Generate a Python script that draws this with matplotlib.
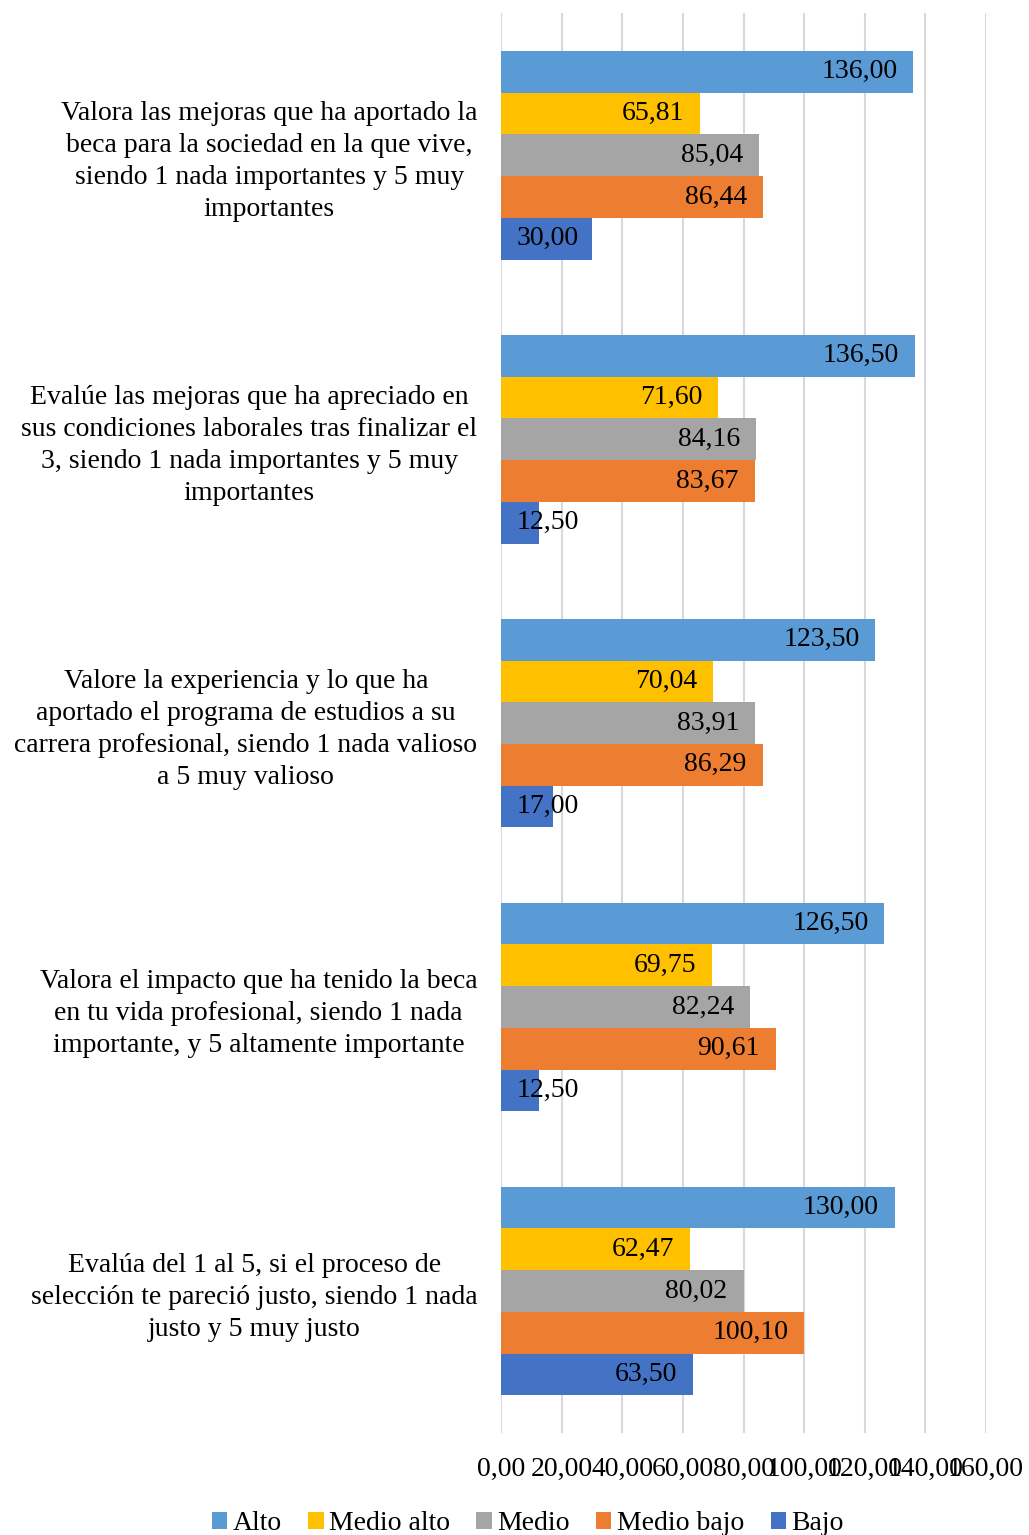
import matplotlib.pyplot as plt
import numpy as np

plt.rcParams['font.family'] = ['Liberation Serif', 'DejaVu Serif']

# categories from bottom to top
categorias = [
    "Evalúa del 1 al 5, si el proceso de\nselección te pareció justo, siendo 1 nada\njusto y 5 muy justo",
    "Valora el impacto que ha tenido la beca\nen tu vida profesional, siendo 1 nada\nimportante, y 5 altamente importante",
    "Valore la experiencia y lo que ha\naportado el programa de estudios a su\ncarrera profesional, siendo 1 nada valioso\na 5 muy valioso",
    "Evalúe las mejoras que ha apreciado en\nsus condiciones laborales tras finalizar el\n3, siendo 1 nada importantes y 5 muy\nimportantes",
    "Valora las mejoras que ha aportado la\nbeca para la sociedad en la que vive,\nsiendo 1 nada importantes y 5 muy\nimportantes",
]

series = ["Alto", "Medio alto", "Medio", "Medio bajo", "Bajo"]
alto = [130.00, 126.50, 123.50, 136.50, 136.00]
medio_alto = [62.47, 69.75, 70.04, 71.60, 65.81]
medio = [80.02, 82.24, 83.91, 84.16, 85.04]
medio_bajo = [100.10, 90.61, 86.29, 83.67, 86.44]
bajo = [63.50, 12.50, 17.00, 12.50, 30.00]
colores = ["#5B9BD5", "#FFC000", "#A5A5A5", "#ED7D31", "#4472C4"]

ticks = [0, 20, 40, 60, 80, 100, 120, 140, 160]

def fmt(v):
    return f"{v:.2f}".replace(".", ",")

fig = plt.figure(figsize=(10.29, 15.35), dpi=100)
ax = fig.add_axes([0.4869, 0.0664, 0.4713, 0.925])

y = np.arange(len(categorias))
h = 0.147
datos = [alto, medio_alto, medio, medio_bajo, bajo]
for k, (nombre, vals, col) in enumerate(zip(series, datos, colores)):
    pos = y + (2 - k) * h
    ax.barh(pos, vals, height=h, color=col, label=nombre, zorder=2)
    for p, v in zip(pos, vals):
        if v < 31:
            ax.annotate(fmt(v), (0, p), xytext=(11.5, 0), textcoords="offset points",
                        ha="left", va="center", fontsize=20, zorder=3)
        else:
            ax.annotate(fmt(v), (v, p), xytext=(-11.5, 0), textcoords="offset points",
                        ha="right", va="center", fontsize=20, zorder=3)

ax.set_xlim(0, 160)
ax.set_ylim(-0.5, 4.5)
ax.set_xticks(ticks)
ax.set_xticklabels([fmt(t) for t in ticks], fontsize=20)
ax.set_yticks(y)
ax.set_yticklabels(categorias, fontsize=20, multialignment="center", linespacing=1.36)
ax.tick_params(axis="both", length=0)
ax.tick_params(axis="x", pad=17)
ax.tick_params(axis="y", pad=17)
ax.grid(axis="x", color="#D9D9D9", linewidth=1.5, zorder=0)
ax.set_axisbelow(True)
for s in ax.spines.values():
    s.set_visible(False)

fig.legend(loc="lower center", bbox_to_anchor=(0.513, -0.017), ncol=5, frameon=False,
           fontsize=20, handlelength=0.55, handleheight=0.55, handletextpad=0.2,
           columnspacing=0.95)

fig.savefig("out.png", dpi=100)
